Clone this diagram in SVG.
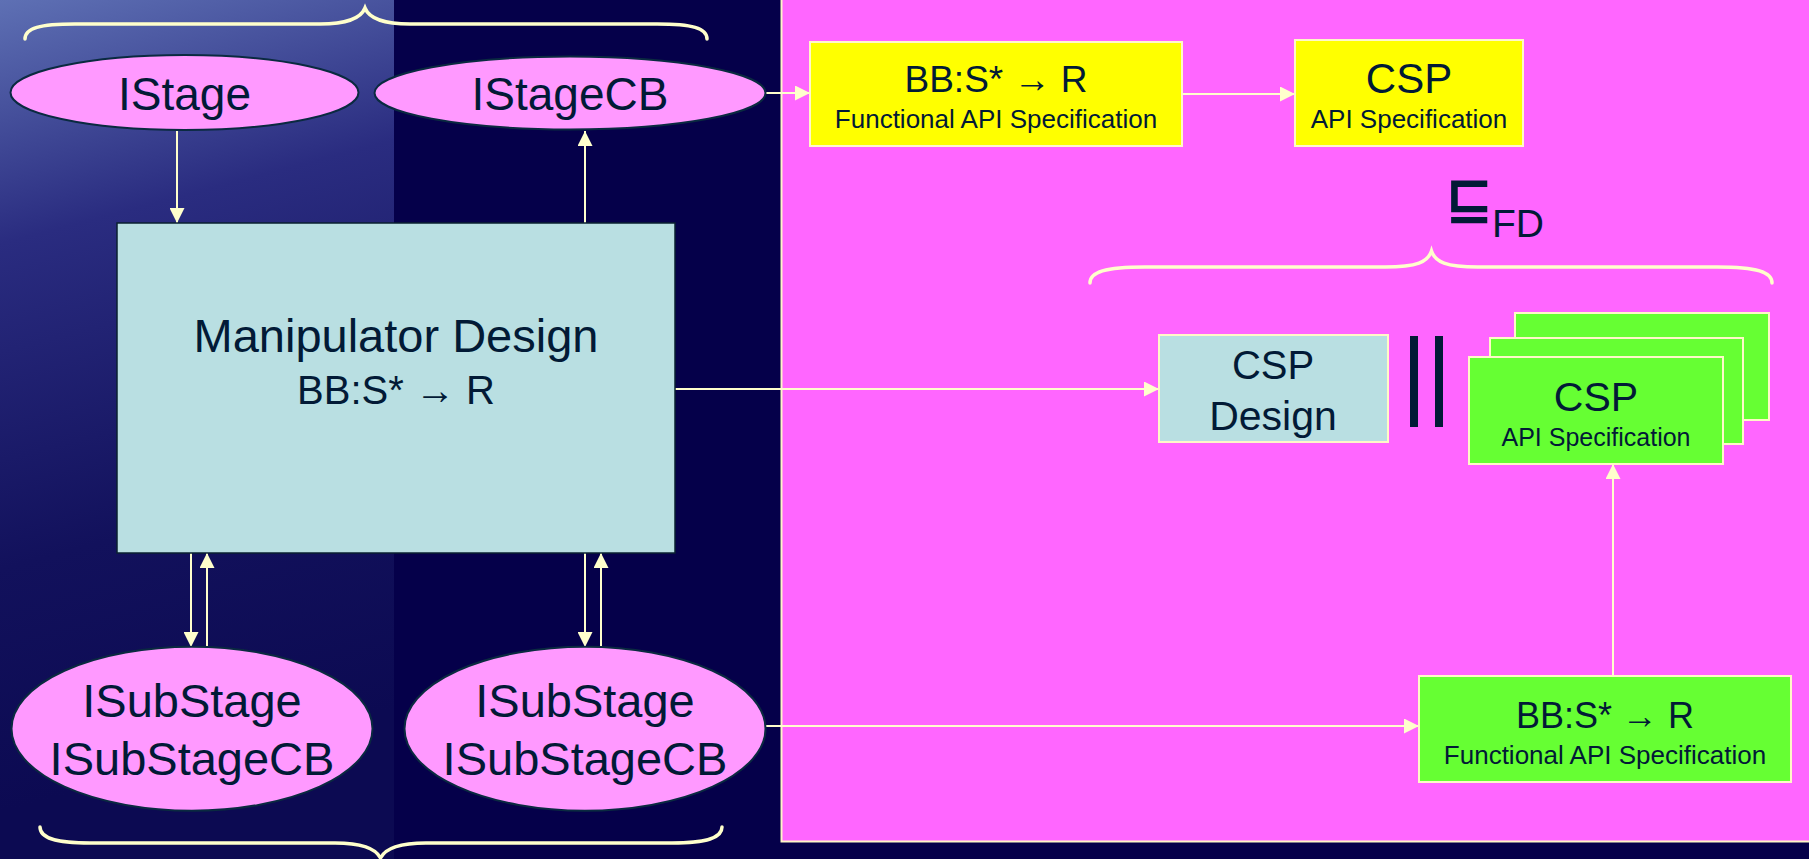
<svg xmlns="http://www.w3.org/2000/svg" width="1809" height="859" viewBox="0 0 1809 859">
<style>
.t{font-family:"Liberation Sans",Arial,sans-serif;fill:#021A36;text-anchor:middle}
.ell{fill:#FF99FF;stroke:#0A2A40;stroke-width:2}
.cy{fill:#B9DFE2}
.yl{fill:#FFFF00;stroke:#FFF8C8;stroke-width:2}
.gr{fill:#66FF33;stroke:#FFF8C8;stroke-width:2}
.con{stroke:#FFFFCC;stroke-width:2;fill:none}
.brace{stroke:#FFFFCC;stroke-width:3.5;fill:none;stroke-linecap:round}
</style>
<defs>
<linearGradient id="lg" gradientUnits="userSpaceOnUse" x1="0" y1="0" x2="200" y2="760">
<stop offset="0" stop-color="#5E70B4"/>
<stop offset="0.3" stop-color="#2A2C80"/>
<stop offset="0.7" stop-color="#12115C"/>
<stop offset="1" stop-color="#0C0A52"/>
</linearGradient>
<marker id="ah" markerUnits="userSpaceOnUse" markerWidth="15" markerHeight="15" viewBox="0 0 15 15" refX="15" refY="7.5" orient="auto">
<path d="M0,0 L15,7.5 L0,15 z" fill="#FFFFCC"/>
</marker>
</defs>
<rect x="0" y="0" width="1809" height="859" fill="#05004A"/>
<rect x="0" y="0" width="394" height="859" fill="url(#lg)"/>
<rect id="panel" x="781.5" y="-5" width="1040" height="846.5" fill="#FF66FF" stroke="#FFF5C8" stroke-width="2"/>

<g id="braces">
<path class="brace" d="M25,39 C25,28 40,24 75,24 L320,24 C348,24 361,18 365,8 C369,18 382,24 410,24 L657,24 C692,24 707,28 707,39"/>
<path class="brace" d="M1090,283 C1090,272 1105,267 1145,267 L1385,267 C1417,267 1428,262 1431.5,251 C1435,262 1446,267 1478,267 L1717,267 C1757,267 1772,272 1772,283"/>
<path class="brace" d="M40,827 C40,838 55,843 90,843 L335,843 C363,843 376,849 380.5,858 C385,849 398,843 426,843 L672,843 C707,843 722,838 722,827"/>
</g>

<g id="connectors">
<line class="con" x1="177" y1="131" x2="177" y2="223" marker-end="url(#ah)"/>
<line class="con" x1="585" y1="223" x2="585" y2="131" marker-end="url(#ah)"/>
<line class="con" x1="766" y1="93" x2="810" y2="93" marker-end="url(#ah)"/>
<line class="con" x1="1182" y1="94" x2="1295" y2="94" marker-end="url(#ah)"/>
<line class="con" x1="675" y1="389" x2="1159" y2="389" marker-end="url(#ah)"/>
<line class="con" x1="191" y1="553" x2="191" y2="647" marker-end="url(#ah)"/>
<line class="con" x1="207" y1="647" x2="207" y2="553" marker-end="url(#ah)"/>
<line class="con" x1="585" y1="553" x2="585" y2="647" marker-end="url(#ah)"/>
<line class="con" x1="601" y1="647" x2="601" y2="553" marker-end="url(#ah)"/>
<line class="con" x1="765" y1="726" x2="1419" y2="726" marker-end="url(#ah)"/>
<line class="con" x1="1613" y1="676" x2="1613" y2="464" marker-end="url(#ah)"/>
</g>

<g id="istage">
<ellipse class="ell" cx="184.5" cy="92.5" rx="174" ry="37.5"/>
<text class="t" x="184.5" y="110" font-size="46">IStage</text>
</g>
<g id="istagecb">
<ellipse class="ell" cx="570" cy="93" rx="195.5" ry="36.5"/>
<text class="t" x="570" y="110" font-size="46">IStageCB</text>
</g>
<g id="manipulator">
<rect class="cy" x="117" y="223" width="558" height="330" stroke="#0A2030" stroke-width="1.5"/>
<text class="t" x="396" y="352" font-size="47">Manipulator Design</text>
<text class="t" x="396" y="404" font-size="40">BB:S* → R</text>
</g>
<g id="isubstage1">
<ellipse class="ell" cx="192" cy="728.7" rx="180.5" ry="82"/>
<text class="t" x="192" y="717" font-size="47">ISubStage</text>
<text class="t" x="192" y="775" font-size="47">ISubStageCB</text>
</g>
<g id="isubstage2">
<ellipse class="ell" cx="585" cy="728.7" rx="180.5" ry="82"/>
<text class="t" x="585" y="717" font-size="47">ISubStage</text>
<text class="t" x="585" y="775" font-size="47">ISubStageCB</text>
</g>
<g id="func-spec-top">
<rect class="yl" x="810" y="42" width="372" height="104"/>
<text class="t" x="996" y="92" font-size="37">BB:S* → R</text>
<text class="t" x="996" y="128" font-size="26">Functional API Specification</text>
</g>
<g id="csp-spec-top">
<rect class="yl" x="1295" y="40" width="228" height="106"/>
<text class="t" x="1409" y="93" font-size="42">CSP</text>
<text class="t" x="1409" y="128" font-size="26">API Specification</text>
</g>
<g id="refines">
<text transform="translate(1445,217) scale(1.05,1)" x="0" y="0" font-family="DejaVu Sans, sans-serif" font-weight="bold" font-size="55" fill="#021A36">⊑</text>
<text x="1492" y="237" font-family="Liberation Sans, Arial, sans-serif" font-size="39" fill="#021A36">FD</text>
</g>
<g id="csp-design">
<rect class="cy" x="1159" y="335" width="229" height="107" stroke="#FFF8C8" stroke-width="2"/>
<text class="t" x="1273" y="379" font-size="40">CSP</text>
<text class="t" x="1273" y="430" font-size="41">Design</text>
</g>
<g id="parallel">
<rect x="1410" y="336" width="8" height="91" fill="#021A36"/>
<rect x="1435" y="336" width="8" height="91" fill="#021A36"/>
</g>
<g id="csp-spec-stack">
<rect class="gr" x="1515" y="313" width="254" height="107"/>
<rect class="gr" x="1490" y="338" width="253" height="106"/>
<rect class="gr" x="1469" y="357" width="254" height="107"/>
<text class="t" x="1596" y="411" font-size="41">CSP</text>
<text class="t" x="1596" y="446" font-size="25">API Specification</text>
</g>
<g id="func-spec-bottom">
<rect class="gr" x="1419" y="676" width="372" height="106"/>
<text class="t" x="1605" y="728" font-size="36">BB:S* → R</text>
<text class="t" x="1605" y="764" font-size="26">Functional API Specification</text>
</g>
</svg>
